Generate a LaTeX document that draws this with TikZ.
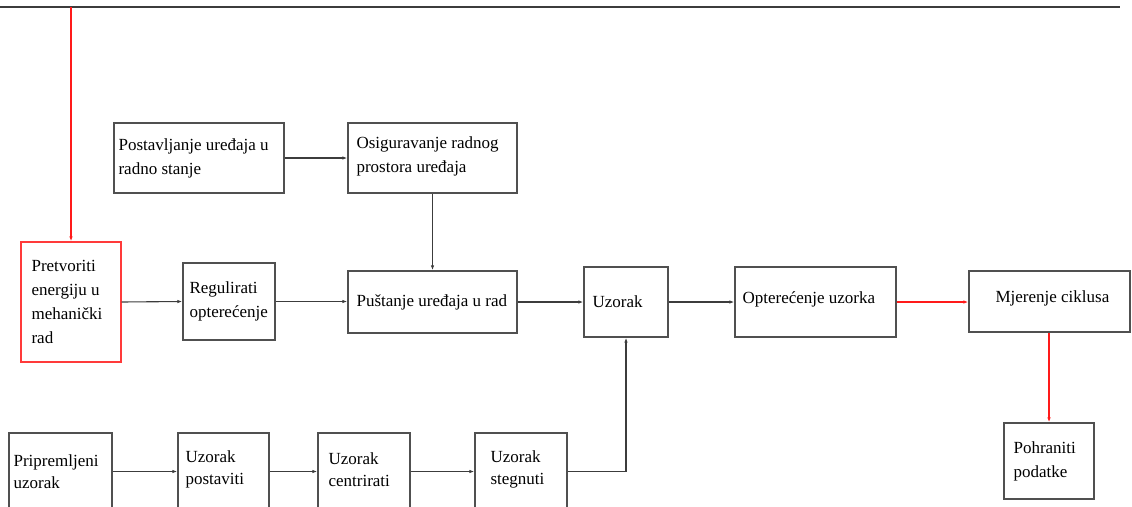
\documentclass[tikz,border=0pt]{standalone}
\usepackage{fontspec}
\setmainfont{Liberation Serif}
\newfontfamily\diagfont{Liberation Serif}
\usetikzlibrary{arrows.meta,calc}
\definecolor{linegray}{HTML}{3C3C3C}
\definecolor{boxgray}{HTML}{505050}
\definecolor{redline}{HTML}{FF1A1A}
\definecolor{redbox}{HTML}{FF3A3A}
\begin{document}
\begin{tikzpicture}[x=1pt,y=-1pt,
  blk/.style={draw=boxgray, line width=1.3pt, fill=white, inner sep=0pt},
  redblk/.style={draw=redbox, line width=1.3pt, fill=white, inner sep=0pt},
  txt/.style={anchor=west, align=left, inner sep=0pt, font=\diagfont\fontsize{17}{24}\selectfont, text=black},
  txtb/.style={txt, font=\diagfont\fontsize{17}{22}\selectfont},
  conn/.style={draw=linegray, line width=1.1pt, -{Latex[length=5pt,width=3.5pt]}},
  redconn/.style={draw=redline, line width=1.1pt, -{Latex[length=5pt,width=3.5pt]}}
]
\useasboundingbox (0,0) rectangle (1132,506);

% top rule
\coordinate (topL) at (0,7);
\coordinate (topR) at (1120,7);
\coordinate (topP) at (71,7);
\draw[draw=linegray, line width=1.1pt] (topL) -- (topR);

% boxes
\node[redblk, minimum width=100pt, minimum height=120pt] (pret) at (71,302) {};
\node[txt] (pretT) at ([xshift=11pt]pret.west) {Pretvoriti\\energiju u\\mehanički\\rad};

\node[blk, minimum width=92pt, minimum height=77pt] (reg) at (229,301.5) {};
\node[txt] (regT) at ([xshift=7pt]reg.west) {Regulirati\\opterećenje};

\node[blk, minimum width=170pt, minimum height=70pt] (post) at (199,158) {};
\node[txt] (postT) at ([xshift=5pt]post.west) {Postavljanje uređaja u\\radno stanje};

\node[blk, minimum width=169pt, minimum height=70pt] (osig) at (432.5,158) {};
\node[txt] (osigT) at ([xshift=9pt,yshift=2pt]osig.west) {Osiguravanje radnog\\prostora uređaja};

\node[blk, minimum width=169pt, minimum height=62pt] (pust) at (432.5,302) {};
\node[txt] (pustT) at ([xshift=9pt]pust.west) {Puštanje uređaja u rad};

\node[blk, minimum width=84pt, minimum height=70pt] (uz) at (626,302) {};
\node[txt] (uzT) at ([xshift=9pt]uz.west) {Uzorak};

\node[blk, minimum width=161pt, minimum height=70pt] (opt) at (815.5,302) {};
\node[txt] (optT) at ([xshift=8pt,yshift=3pt]opt.west) {Opterećenje uzorka};

\node[blk, minimum width=161pt, minimum height=61pt] (mjer) at (1049.5,301.5) {};
\node[txt] (mjerT) at ([xshift=27pt,yshift=3pt]mjer.west) {Mjerenje ciklusa};

\node[blk, minimum width=90pt, minimum height=76pt] (pohr) at (1049,461) {};
\node[txt] (pohrT) at ([xshift=10pt]pohr.west) {Pohraniti\\podatke};

\node[blk, minimum width=103pt, minimum height=77pt] (prip) at (60.5,471.5) {};
\node[txtb] (pripT) at ([xshift=5pt]prip.west) {Pripremljeni\\uzorak};

\node[blk, minimum width=91pt, minimum height=77pt] (upost) at (223.5,471.5) {};
\node[txtb] (upostT) at ([xshift=8pt,yshift=2pt]upost.west) {Uzorak\\postaviti};

\node[blk, minimum width=92pt, minimum height=77pt] (ucent) at (364,471.5) {};
\node[txtb] (ucentT) at ([xshift=11pt,yshift=2pt]ucent.west) {Uzorak\\centrirati};

\node[blk, minimum width=92pt, minimum height=77pt] (usteg) at (521,471.5) {};
\node[txtb] (ustegT) at ([xshift=16pt,yshift=2pt]usteg.west) {Uzorak\\stegnuti};

% connectors
\draw[redconn] (topP) -- (pret.north);
\draw[conn] (pret.east) -- (reg.west);
\draw[conn] (reg.east) -- (reg.east -| pust.west);
\draw[conn] (post.east) -- (osig.west);
\draw[conn] (osig.south) -- (pust.north);
\draw[conn] (pust.east) -- (uz.west);
\draw[conn] (uz.east) -- (opt.west);
\draw[redconn] (opt.east) -- (opt.east -| mjer.west);
\draw[redconn] (mjer.south -| pohr.north) -- (pohr.north);
\draw[conn] (prip.east) -- (upost.west);
\draw[conn] (upost.east) -- (ucent.west);
\draw[conn] (ucent.east) -- (usteg.west);
\draw[conn] (usteg.east) -| (uz.south);
\end{tikzpicture}
\end{document}
